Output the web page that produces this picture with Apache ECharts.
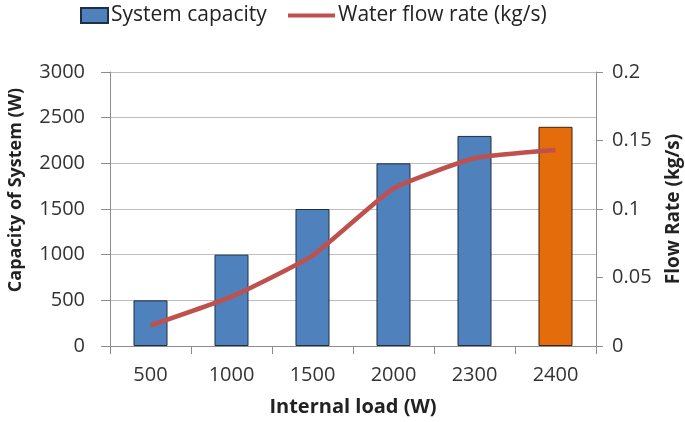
<!DOCTYPE html>
<html>
<head>
<meta charset="utf-8">
<script src="https://cdn.jsdelivr.net/npm/echarts@6/dist/echarts.min.js"></script>
<style>
  html, body { margin: 0; padding: 0; background: #fff; }
  #chart { width: 685px; height: 422px; }
</style>
</head>
<body>
<div id="chart"></div>
<script>
// Internal load categories (W)
const loads = ['500', '1000', '1500', '2000', '2300', '2400'];
// System capacity (W)
const capacity = [500, 1000, 1500, 2000, 2300, 2400];
// Water flow rate (kg/s)
const flowRate = [0.015, 0.036, 0.066, 0.115, 0.137, 0.143];
// Axis tick values
const leftTicks = { min: 0, max: 3000, interval: 500 };
const rightTicks = { min: 0, max: 0.2, interval: 0.05 };

const FONT = 'Open Sans';
const axisGray = '#8c8c8c';
const gridGray = '#bdbdbd';

const barData = capacity.map((v, i) => i === capacity.length - 1
  ? { value: v, itemStyle: { color: '#E46C0A', borderColor: '#3b2514' } }
  : v);

const chart = echarts.init(document.getElementById('chart'), null, { renderer: 'canvas' });
chart.setOption({
  animation: false,
  backgroundColor: '#fff',
  textStyle: { fontFamily: FONT },
  grid: { left: 110, right: 89, top: 72, bottom: 76, containLabel: false, outerBoundsMode: 'none' },
  legend: [
    {
      data: [{ name: 'System capacity', icon: 'rect' }],
      left: 80, top: 5, padding: 0,
      itemWidth: 27, itemHeight: 15, itemGap: 4,
      textStyle: { fontFamily: FONT, fontSize: 21, color: '#222', padding: [0, 0, 0, -2] }
    },
    {
      data: [{ name: 'Water flow rate (kg/s)', icon: 'rect' }],
      left: 288, top: 5, padding: 0,
      itemWidth: 47, itemHeight: 4,
      itemStyle: { color: '#C0504D' },
      textStyle: { fontFamily: FONT, fontSize: 21, color: '#222', padding: [0, 0, 0, -2] }
    }
  ],
  xAxis: {
    type: 'category',
    data: loads,
    name: 'Internal load (W)',
    nameLocation: 'middle',
    nameGap: 51,
    nameTextStyle: { fontFamily: FONT, fontSize: 20, fontWeight: 'bold', color: '#222' },
    axisLine: { lineStyle: { color: axisGray, width: 1 } },
    axisTick: { show: true, length: 8, lineStyle: { color: axisGray }, alignWithLabel: false },
    axisLabel: { fontFamily: FONT, fontSize: 20, color: '#333', margin: 19 },
    splitLine: { show: false }
  },
  yAxis: [
    {
      type: 'value',
      position: 'left',
      min: leftTicks.min, max: leftTicks.max, interval: leftTicks.interval,
      name: 'Capacity of System (W)',
      nameLocation: 'middle',
      nameRotate: 90,
      nameGap: 85,
      nameTextStyle: { fontFamily: FONT, fontSize: 18, fontWeight: 'bold', color: '#222', padding: [0, 0, 0, 38] },
      axisLine: { show: true, lineStyle: { color: axisGray, width: 1 } },
      axisTick: { show: true, length: 9, lineStyle: { color: axisGray } },
      axisLabel: { fontFamily: FONT, fontSize: 20, color: '#333', margin: 25, formatter: v => String(v) },
      splitLine: { show: true, lineStyle: { color: gridGray, width: 1 } }
    },
    {
      type: 'value',
      position: 'right',
      min: rightTicks.min, max: rightTicks.max, interval: rightTicks.interval,
      name: 'Flow Rate (kg/s)',
      nameLocation: 'middle',
      nameRotate: 90,
      nameGap: 68,
      nameTextStyle: { fontFamily: FONT, fontSize: 19, fontWeight: 'bold', color: '#222' },
      axisLine: { show: true, lineStyle: { color: axisGray, width: 1 } },
      axisTick: { show: true, length: 7, lineStyle: { color: axisGray } },
      axisLabel: { fontFamily: FONT, fontSize: 20, color: '#333', margin: 16, formatter: v => String(v) },
      splitLine: { show: false }
    }
  ],
  series: [
    {
      name: 'System capacity',
      type: 'bar',
      yAxisIndex: 0,
      data: barData,
      barWidth: '42%',
      itemStyle: { color: '#4F81BD', borderColor: '#1f2f45', borderWidth: 1 }
    },
    {
      name: 'Water flow rate (kg/s)',
      type: 'line',
      yAxisIndex: 1,
      data: flowRate,
      smooth: 0.15,
      symbol: 'none',
      lineStyle: { color: '#C0504D', width: 4.5 },
      itemStyle: { color: '#C0504D' }
    }
  ]
});
</script>
</body>
</html>
